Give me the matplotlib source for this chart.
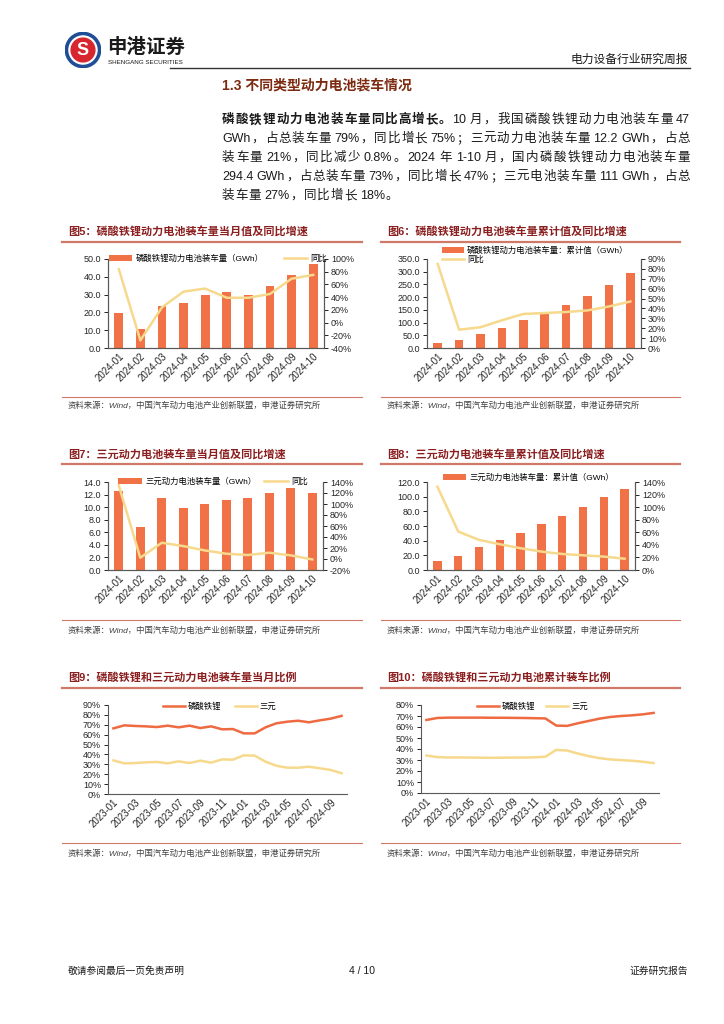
import re
import numpy as np
import matplotlib
matplotlib.use("Agg")
import matplotlib.pyplot as plt
from matplotlib.lines import Line2D
from matplotlib.patches import Circle

plt.rcParams['font.family'] = ['Liberation Sans', 'Noto Sans CJK SC']
plt.rcParams['axes.edgecolor'] = '#595959'
plt.rcParams['axes.linewidth'] = 0.8

# ---------------- data ----------------
months_2024 = ['2024-01', '2024-02', '2024-03', '2024-04', '2024-05',
               '2024-06', '2024-07', '2024-08', '2024-09', '2024-10']
lfp_monthly = [19.7, 10.8, 23.6, 25.5, 29.5, 31.5, 30.0, 34.9, 41.1, 47.0]
lfp_monthly_yoy = [84, -28, 24, 48.7, 53.5, 39, 39, 45, 69, 75]
lfp_cum = [19.7, 30.5, 54.1, 79.6, 109.1, 138.0, 170.6, 205.5, 246.6, 294.4]
lfp_cum_yoy = [85, 18.5, 21, 28, 34.4, 35.4, 36.4, 38, 42, 47]
ncm_monthly = [12.6, 6.9, 11.4, 9.9, 10.5, 11.2, 11.5, 12.2, 13.1, 12.2]
ncm_monthly_yoy = [134, 2.3, 29.5, 23.5, 15.6, 9.6, 7.2, 11.4, 6.6, -0.8]
ncm_cum = [12.3, 19.2, 31.0, 41.0, 51.1, 62.1, 73.5, 85.8, 99.0, 111.0]
ncm_cum_yoy = [132.5, 61.2, 47.9, 41.0, 34.6, 29.3, 25.5, 23.4, 21.3, 18.0]

months_share = ['2023-01', '2023-02', '2023-03', '2023-04', '2023-05', '2023-06',
                '2023-07', '2023-08', '2023-09', '2023-10', '2023-11', '2023-12',
                '2024-01', '2024-02', '2024-03', '2024-04', '2024-05', '2024-06',
                '2024-07', '2024-08', '2024-09', '2024-10']
lfp_share_monthly = [66.4, 69.4, 68.8, 68.4, 67.7, 69.1, 67.4, 69.1, 66.7, 68.4, 65.4,
                     65.7, 61.3, 61.3, 67.4, 71.5, 73.1, 74.1, 72.5, 74.5, 76.2, 79.0]
ncm_share_monthly = [34.0, 31.0, 31.3, 32.0, 32.4, 31.0, 33.0, 31.3, 33.7, 31.7, 35.0,
                     34.7, 39.1, 38.8, 32.7, 28.6, 26.6, 26.6, 27.6, 26.0, 24.3, 21.0]
lfp_share_cum = [66.4, 68.2, 68.5, 68.5, 68.5, 68.5, 68.4, 68.4, 68.3, 68.2, 68.0,
                 67.8, 61.3, 61.0, 63.4, 65.5, 67.6, 69.1, 70.0, 70.6, 71.5, 72.8]
ncm_share_cum = [34.1, 32.6, 32.3, 32.3, 32.2, 32.1, 32.0, 32.1, 32.2, 32.2, 32.4,
                 33.0, 39.2, 38.6, 35.9, 33.5, 31.7, 30.5, 29.9, 29.3, 28.4, 27.2]

# ---------------- helpers ----------------
W, H = 724, 1024
fig = plt.figure(figsize=(W / 100, H / 100), dpi=100)
fig.patch.set_facecolor('white')
renderer = fig.canvas.get_renderer()

BAR = '#F07246'
LINE = '#F6D98C'
RED = '#EE6A40'
TITLE = '#8B1E1E'
RULE = '#CF7A68'


def ax_px(l, t, r, b):
    return fig.add_axes([l / W, 1 - b / H, (r - l) / W, (b - t) / H])


def tx(x, y, s, **kw):
    kw.setdefault('va', 'center')
    return fig.text(x / W, 1 - y / H, s, **kw)


def hline(x0, x1, y, color, lw):
    fig.add_artist(Line2D([x0 / W, x1 / W], [1 - y / H, 1 - y / H], color=color, lw=lw))


def tokens(s):
    return re.findall(r'[A-Za-z0-9.%\-]+| |[^\sA-Za-z0-9.%\-]', s)


def justified(y, segs, x0, x1, fs=9, gap=None):
    toks = []
    for s, w in segs:
        toks += [(t, w) for t in tokens(s)]
    arts, widths = [], []
    for t, w in toks:
        if t == ' ':
            arts.append(None)
            widths.append(2.5)
            continue
        a = fig.text(0, 0, t, fontsize=fs, fontweight=w, va='center', ha='left',
                     color='#1a1a1a')
        widths.append(a.get_window_extent(renderer).width)
        arts.append(a)
    n_real = sum(1 for a in arts if a is not None)
    if gap is None:
        gap = (x1 - x0 - sum(widths)) / (n_real - 1)
    x = x0
    for a, wd in zip(arts, widths):
        if a is None:
            x += wd
            continue
        a.set_position((x / W, 1 - y / H))
        x += wd + gap
    return gap


def style_axes(ax, right=None):
    ax.spines['top'].set_visible(False)
    if right is None:
        ax.spines['right'].set_visible(False)
    ax.tick_params(axis='y', labelsize=6.5, length=3, width=0.6, labelcolor='#262626', pad=2)
    ax.tick_params(axis='x', labelsize=7, length=0, labelcolor='#262626', pad=2)


def bar_chart(rect, cats, bars, line, lticks, rticks):
    ax = ax_px(*rect)
    x = np.arange(len(cats))
    b = ax.bar(x, bars, width=0.4, color=BAR, zorder=2)
    ax.set_xlim(-0.5, len(cats) - 0.5)
    ax.set_ylim(lticks[0], lticks[-1])
    ax.set_yticks(lticks)
    ax.set_yticklabels([f'{v:.1f}' for v in lticks])
    ax.set_xticks(x)
    ax.set_xticklabels(cats, rotation=45, ha='right', rotation_mode='anchor')
    style_axes(ax, right=True)
    ax2 = ax.twinx()
    l, = ax2.plot(x, line, color=LINE, lw=1.8, zorder=3)
    ax2.set_ylim(rticks[0], rticks[-1])
    ax2.set_yticks(rticks)
    ax2.set_yticklabels([f'{v:.0f}%' for v in rticks])
    ax2.spines['top'].set_visible(False)
    ax2.tick_params(axis='y', labelsize=6.5, length=3, width=0.6, labelcolor='#262626', pad=2)
    return b, l


def share_chart(rect, cats, s1, s2, ticks):
    ax = ax_px(*rect)
    x = np.arange(len(cats))
    l1, = ax.plot(x, s1, color=RED, lw=1.8)
    l2, = ax.plot(x, s2, color=LINE, lw=1.8)
    ax.set_xlim(-0.5, len(cats) - 0.5)
    ax.set_ylim(ticks[0], ticks[-1])
    ax.set_yticks(ticks)
    ax.set_yticklabels([f'{v:.0f}%' for v in ticks])
    ax.set_xticks(x[::2])
    ax.set_xticklabels(cats[::2], rotation=45, ha='right', rotation_mode='anchor')
    style_axes(ax)
    return l1, l2


def legend(handles, labels, x, y, loc='center left', ncol=2, hl=2.6, cs=2.0, ls=0.2):
    fig.legend(handles, labels, loc=loc, bbox_to_anchor=(x / W, 1 - y / H), ncol=ncol,
               frameon=False, fontsize=6, handlelength=hl, handletextpad=0.4,
               columnspacing=cs, borderpad=0, borderaxespad=0, labelspacing=ls)


def panel_frame(x0, x1, ty, tline, sline, sy, title):
    tx(x0 + 6, ty, title, fontsize=8, fontweight='bold', color=TITLE)
    hline(x0, x1, tline, RULE, 1.6)
    hline(x0, x1, sline, RULE, 0.8)
    tx(x0 + 6, sy, '资料来源：Wind，中国汽车动力电池产业创新联盟，申港证券研究所',
       fontsize=6, style='italic', color='#404040')


# ---------------- header ----------------
lax = ax_px(65, 32, 101, 68)
lax.set_xlim(-1, 1)
lax.set_ylim(-1, 1)
lax.axis('off')
lax.add_patch(Circle((0, 0), 0.98, color='#1F4E96'))
lax.add_patch(Circle((0, 0), 0.78, color='white'))
lax.add_patch(Circle((0, 0), 0.66, color='#D7262E'))
lax.text(0, -0.04, 'S', color='white', fontsize=13, fontweight='bold', ha='center', va='center')
tx(107, 47, '申港证券', fontsize=14, fontweight='bold', color='#1a1a1a')
tx(108, 63, 'SHENGANG SECURITIES', fontsize=4.5, color='#1a1a1a')
hline(170, 690, 68, '#333333', 1.0)
tx(688, 60, '电力设备行业研究周报', fontsize=8.5, ha='right', color='#1a1a1a')

tx(222, 85, '1.3 不同类型动力电池装车情况', fontsize=10, fontweight='bold', color='#7C2A10')

X0, X1 = 222, 690
justified(120, [('磷酸铁锂动力电池装车量同比高增长。', 'bold'),
                ('10 月，我国磷酸铁锂动力电池装车量 47', 'normal')], X0, X1)
justified(139, [('GWh，占总装车量 79%，同比增长 75%；三元动力电池装车量 12.2 GWh，占总', 'normal')], X0, X1)
justified(158, [('装车量 21%，同比减少 0.8%。2024 年 1-10 月，国内磷酸铁锂动力电池装车量', 'normal')], X0, X1)
g = justified(177, [('294.4 GWh，占总装车量 73%，同比增长 47%；三元电池装车量 111 GWh，占总', 'normal')], X0, X1)
justified(196, [('装车量 27%，同比增长 18%。', 'normal')], X0, X1, gap=g)

# ---------------- Fig 5 ----------------
panel_frame(62, 362, 232, 242, 397, 406, '图5：磷酸铁锂动力电池装车量当月值及同比增速')
b, l = bar_chart((108, 259, 324, 348), months_2024, lfp_monthly, lfp_monthly_yoy,
                 [0, 10, 20, 30, 40, 50], [-40, -20, 0, 20, 40, 60, 80, 100])
legend([b, l], ['磷酸铁锂动力电池装车量（GWh）', '同比'], 109, 259, hl=2.8, cs=2.4)

# ---------------- Fig 6 ----------------
panel_frame(381, 680, 232, 242, 397, 406, '图6：磷酸铁锂动力电池装车量累计值及同比增速')
b, l = bar_chart((427, 259, 641, 348), months_2024, lfp_cum, lfp_cum_yoy,
                 [0, 50, 100, 150, 200, 250, 300, 350], [0, 10, 20, 30, 40, 50, 60, 70, 80, 90])
legend([b, l], ['磷酸铁锂动力电池装车量：累计值（GWh）', '同比'], 442, 246,
       loc='upper left', ncol=1, hl=2.6, ls=0.15)

# ---------------- Fig 7 ----------------
panel_frame(62, 362, 455, 464, 620, 631, '图7：三元动力电池装车量当月值及同比增速')
b, l = bar_chart((108, 482, 323, 570), months_2024, ncm_monthly, ncm_monthly_yoy,
                 [0, 2, 4, 6, 8, 10, 12, 14], [-20, 0, 20, 40, 60, 80, 100, 120, 140])
legend([b, l], ['三元动力电池装车量（GWh）', '同比'], 118, 482, hl=2.9, cs=0.9)

# ---------------- Fig 8 ----------------
panel_frame(381, 680, 455, 464, 620, 631, '图8：三元动力电池装车量累计值及同比增速')
b, l = bar_chart((427, 482, 635, 570), months_2024, ncm_cum, ncm_cum_yoy,
                 [0, 20, 40, 60, 80, 100, 120], [0, 20, 40, 60, 80, 100, 120, 140])
legend([b], ['三元动力电池装车量：累计值（GWh）'], 443, 478, ncol=1, hl=2.8)

# ---------------- Fig 9 ----------------
panel_frame(62, 362, 678, 688, 843, 854, '图9：磷酸铁锂和三元动力电池装车量当月比例')
l1, l2 = share_chart((108, 705, 347, 794), months_share, lfp_share_monthly,
                     ncm_share_monthly, [0, 10, 20, 30, 40, 50, 60, 70, 80, 90])
legend([l1, l2], ['磷酸铁锂', '三元'], 163, 707, hl=2.6, cs=1.6)

# ---------------- Fig 10 ----------------
panel_frame(381, 680, 678, 688, 843, 854, '图10：磷酸铁锂和三元动力电池累计装车比例')
l1, l2 = share_chart((421, 705, 659, 793), months_share, lfp_share_cum,
                     ncm_share_cum, [0, 10, 20, 30, 40, 50, 60, 70, 80])
legend([l1, l2], ['磷酸铁锂', '三元'], 477, 707, hl=2.6, cs=1.3)

# ---------------- footer ----------------
tx(68, 971, '敬请参阅最后一页免责声明', fontsize=7, color='#1a1a1a')
tx(362, 971, '4 / 10', fontsize=7.5, ha='center', color='#1a1a1a')
tx(688, 971, '证券研究报告', fontsize=7, ha='right', color='#1a1a1a')

fig.savefig('out.png', dpi=100, facecolor='white')
